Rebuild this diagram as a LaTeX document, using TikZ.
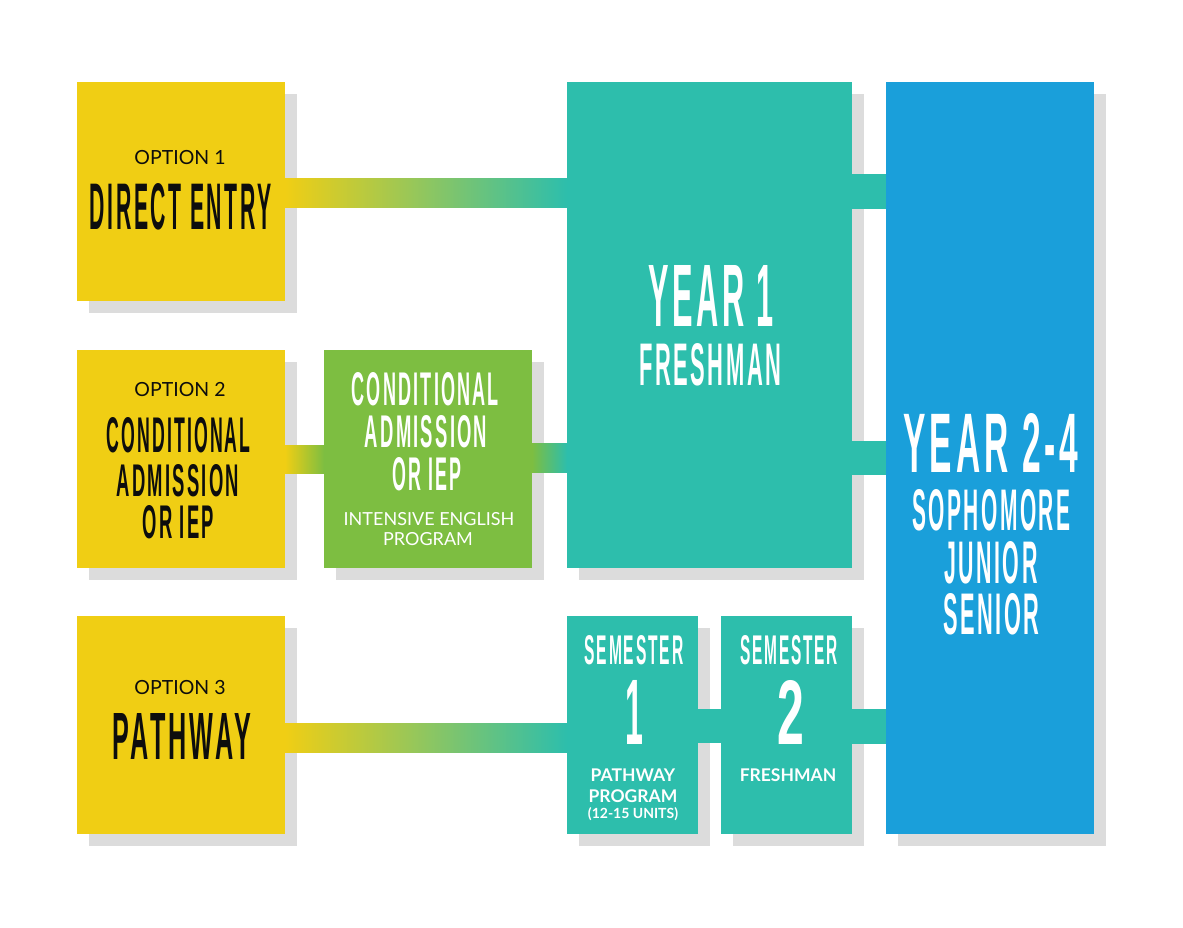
\documentclass[tikz,border=0pt]{standalone}
\usepackage{fontspec}
\usepackage{graphicx}
\setmainfont{Lato}
\newfontfamily\hdf[LetterSpace=12]{Liberation Sans Bold}
\usetikzlibrary{shadows}
\definecolor{yel}{HTML}{F0CE14}
\definecolor{tea}{HTML}{2DBEAC}
\definecolor{grn}{HTML}{7DBE41}
\definecolor{blu}{HTML}{1A9FDA}
\definecolor{shd}{HTML}{DCDCDC}
\definecolor{ink}{HTML}{0D0D0D}
\newcommand{\hdline}[3]{\resizebox{#1pt}{#2pt}{\raisebox{0pt}[\height][0pt]{\hdf #3\kern-0.12em}}}
\begin{document}
\begin{tikzpicture}[x=1pt,y=-1pt,
  box/.style={anchor=north west, inner sep=0pt, outer sep=0pt,
    general shadow={fill=shd, shadow xshift=12pt, shadow yshift=-12pt}},
  txt/.style={anchor=base, inner sep=0pt, outer sep=0pt},
  dark/.style={txt, text=ink},
  light/.style={txt, text=white},
  small/.style={font=\fontsize{19.5}{20}\selectfont},
  smallb/.style={font=\bfseries\fontsize{17.5}{18}\selectfont}]
\fill[white] (0,0) rectangle (1183,927);
\useasboundingbox (0,0) rectangle (1183,927);
% boxes
\node[box, fill=yel, minimum width=208pt, minimum height=219pt] (o1) at (77,82) {};
\node[box, fill=yel, minimum width=208pt, minimum height=218pt] (o2) at (77,350) {};
\node[box, fill=yel, minimum width=208pt, minimum height=218pt] (o3) at (77,616) {};
\node[box, fill=grn, minimum width=208pt, minimum height=218pt] (cg) at (324,350) {};
\node[box, fill=tea, minimum width=285pt, minimum height=486pt] (y1) at (567,82) {};
\node[box, fill=blu, minimum width=208pt, minimum height=752pt] (yb) at (886,82) {};
\node[box, fill=tea, minimum width=131pt, minimum height=218pt] (s1) at (567,616) {};
\node[box, fill=tea, minimum width=131pt, minimum height=218pt] (s2) at (721,616) {};
% connectors
\shade[left color=yel, right color=tea] (o1.east |- 0,178) rectangle (y1.west |- 0,207);
\shade[left color=yel, right color=grn] (o2.east |- 0,445) rectangle (cg.west |- 0,473);
\shade[left color=grn, right color=tea] (cg.east |- 0,443) rectangle (y1.west |- 0,472);
\shade[left color=yel, right color=tea] (o3.east |- 0,723) rectangle (s1.west |- 0,752);
\fill[tea] (s1.east |- 0,709) rectangle (s2.west |- 0,743);
\fill[tea] (s2.east |- 0,709) rectangle (yb.west |- 0,744);
\fill[tea] (y1.east |- 0,174) rectangle (yb.west |- 0,209);
\fill[tea] (y1.east |- 0,441) rectangle (yb.west |- 0,475);
% option 1
\node[dark, small] (t1a) at (180,164) {OPTION 1};
\node[dark] (t1b) at (179.5,229) {\hdline{179}{46}{DIRECT ENTRY}};
% option 2
\node[dark, small] (t2a) at (180,396) {OPTION 2};
\node[dark] (t2b) at (177.5,452) {\hdline{142}{35}{CONDITIONAL}};
\node[dark] (t2c) at (176.7,496) {\hdline{120}{32}{ADMISSION}};
\node[dark] (t2d) at (177.3,538) {\hdline{69}{33}{OR IEP}};
% option 3
\node[dark, small] (t3a) at (180,694) {OPTION 3};
\node[dark] (t3b) at (180.5,759) {\hdline{135}{46}{PATHWAY}};
% conditional box
\node[light] (tga) at (424.3,405) {\hdline{145}{33}{CONDITIONAL}};
\node[light] (tgb) at (425,447) {\hdline{120}{32}{ADMISSION}};
\node[light] (tgc) at (426,490) {\hdline{67}{33}{OR IEP}};
\node[light, font=\fontsize{18}{18}\selectfont] (tgd) at (429,525) {INTENSIVE ENGLISH};
\node[light, font=\fontsize{18}{18}\selectfont] (tge) at (428,545) {PROGRAM};
% year 1
\node[light] (tya) at (709,326) {\hdline{122}{61}{YEAR 1}};
\node[light] (tyb) at (709,385) {\hdline{140}{42}{FRESHMAN}};
% year 2-4
\node[light] (tba) at (989,472) {\hdline{171}{59}{YEAR 2-4}};
\node[light] (tbb) at (990,530) {\hdline{156}{41}{SOPHOMORE}};
\node[light] (tbc) at (989.5,583) {\hdline{91}{42}{JUNIOR}};
\node[light] (tbd) at (990,634) {\hdline{94}{41}{SENIOR}};
% semester 1
\node[light] (tsa) at (633,664) {\hdline{97}{29}{SEMESTER}};
\node[light] (tsb) at (632,744) {\hdline{14}{64}{1}};
\node[light, smallb] (tsc) at (633,781) {PATHWAY};
\node[light, smallb] (tsd) at (633,802) {PROGRAM};
\node[light, font=\bfseries\fontsize{14}{14}\selectfont] (tse) at (633,818) {(12-15 UNITS)};
% semester 2
\node[light] (tta) at (788,664) {\hdline{96}{29}{SEMESTER}};
\node[light] (ttb) at (787.5,744) {\hdline{21}{64}{2}};
\node[light, smallb] (ttc) at (788,781) {FRESHMAN};
\end{tikzpicture}
\end{document}
